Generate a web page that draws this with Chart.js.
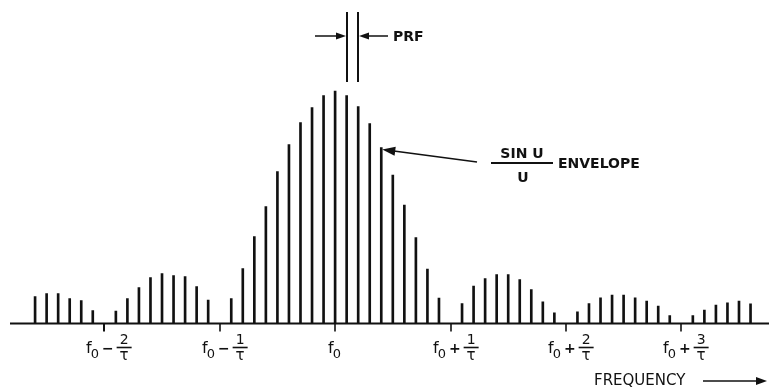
<!DOCTYPE html>
<html>
<head>
<meta charset="utf-8">
<script src="https://cdn.jsdelivr.net/npm/chart.js@4.4.1/dist/chart.umd.min.js"></script>
<style>
  html, body { margin: 0; padding: 0; background: #fff; overflow: hidden; }
  canvas { display: block; }
</style>
</head>
<body>
<canvas id="spectrumChart" width="769" height="389"></canvas>
<script>
// ========================
// Daten (Linienspektrum, Abstand = PRF)
// ========================
const lineOffsets = [
  -26, -25, -24, -23, -22, -21, -20, -19, -18, -17, -16, -15, -14, -13, -12, -11,
  -10, -9, -8, -7, -6, -5, -4, -3, -2, -1, 0, 1, 2, 3, 4, 5, 6, 7, 8, 9,
  10, 11, 12, 13, 14, 15, 16, 17, 18, 19, 20, 21, 22, 23, 24, 25, 26, 27, 28, 29,
  30, 31, 32, 33, 34, 35, 36
];
const amplitudes = [
  27, 30, 30, 25, 23, 13, 0, 12.5, 25, 36, 46, 50, 48, 47, 37, 23.5,
  0, 25, 55, 87, 117, 152, 179, 201, 216, 228, 232.5, 228, 217, 200, 176, 148.5, 118.5, 86, 54.5, 25.5,
  0, 20, 37.5, 45, 49, 49, 44, 34, 21.7, 10.7, 0, 11.7, 20, 25.7, 28.3, 28.3, 25.7, 22.3, 17.3, 8,
  0, 8, 13.3, 18.3, 20.7, 22.3, 19.7
];
const tickOffsets = [-20, -10, 0, 10, 20, 30];
const tickLabels = ['f0 − 2/τ', 'f0 − 1/τ', 'f0', 'f0 + 1/τ', 'f0 + 2/τ', 'f0 + 3/τ'];
const prfLines = [1, 2];
const envelopeLine = 4;

document.addEventListener('DOMContentLoaded', () => {
  const INK = '#111';
  const FONT = '"DejaVu Sans", sans-serif';

  function arrow(ctx, x1, y1, x2, y2, len, half) {
    const a = Math.atan2(y2 - y1, x2 - x1);
    ctx.beginPath();
    ctx.moveTo(x1, y1);
    ctx.lineTo(x2 - Math.cos(a) * len * 0.6, y2 - Math.sin(a) * len * 0.6);
    ctx.stroke();
    ctx.beginPath();
    ctx.moveTo(x2, y2);
    ctx.lineTo(x2 - Math.cos(a) * len - Math.sin(a) * half, y2 - Math.sin(a) * len + Math.cos(a) * half);
    ctx.lineTo(x2 - Math.cos(a) * len + Math.sin(a) * half, y2 - Math.sin(a) * len - Math.cos(a) * half);
    ctx.closePath();
    ctx.fill();
  }

  // Beschriftung wie "f0 − 2/τ": f, tiefgestellte 0, Vorzeichen, Bruch
  function tickLabel(ctx, label, px) {
    const m = label.match(/^f0(?: ([−+]) (\d)\/τ)?$/);
    ctx.textBaseline = 'alphabetic';
    ctx.textAlign = 'left';
    ctx.font = '16px ' + FONT;
    const wf = ctx.measureText('f').width;
    ctx.font = '13px ' + FONT;
    const w0 = ctx.measureText('0').width;
    if (!m[1]) {
      const start = px - (wf + w0) / 2;
      ctx.font = '16px ' + FONT;
      ctx.fillText('f', start, 353);
      ctx.font = '13px ' + FONT;
      ctx.fillText('0', start + wf - 1, 358);
      return;
    }
    let cx = px - 18;
    ctx.font = '16px ' + FONT;
    ctx.fillText('f', cx, 353);
    cx += wf - 1;
    ctx.font = '13px ' + FONT;
    ctx.fillText('0', cx, 358);
    cx += w0 + 3;
    ctx.font = 'bold 14px ' + FONT;
    ctx.fillText(m[1], cx, 353);
    cx += ctx.measureText(m[1]).width + 3;
    const barW = 15;
    const mid = cx + barW / 2;
    ctx.textAlign = 'center';
    ctx.font = '14px ' + FONT;
    ctx.fillText(m[2], mid, 344);
    ctx.font = '15px ' + FONT;
    ctx.fillText('τ', mid, 360);
    ctx.lineWidth = 1.6;
    ctx.beginPath();
    ctx.moveTo(cx, 347.5);
    ctx.lineTo(cx + barW, 347.5);
    ctx.stroke();
  }

  const annotations = {
    id: 'annotations',
    afterDraw(chart) {
      const ctx = chart.ctx;
      const xs = chart.scales.x;
      const ys = chart.scales.y;
      const base = ys.getPixelForValue(0);
      ctx.save();
      ctx.strokeStyle = INK;
      ctx.fillStyle = INK;
      ctx.lineWidth = 2;

      // Frequenzachse mit Marken
      ctx.beginPath();
      ctx.moveTo(10, base);
      ctx.lineTo(chart.width, base);
      ctx.stroke();
      tickOffsets.forEach((t, i) => {
        const px = Math.round(xs.getPixelForValue(t));
        ctx.beginPath();
        ctx.moveTo(px, base);
        ctx.lineTo(px, base + 8);
        ctx.stroke();
        tickLabel(ctx, tickLabels[i], px);
      });

      ctx.font = '15px ' + FONT;
      ctx.textAlign = 'left';
      ctx.textBaseline = 'middle';
      ctx.fillText('FREQUENCY', 594, 381);
      ctx.lineWidth = 1.5;
      arrow(ctx, 703, 381, 767, 381, 11, 4);

      // PRF-Abstand
      const pa = Math.round(xs.getPixelForValue(prfLines[0]));
      const pb = Math.round(xs.getPixelForValue(prfLines[1]));
      ctx.lineWidth = 2;
      [pa, pb].forEach(px => {
        ctx.beginPath();
        ctx.moveTo(px, 12);
        ctx.lineTo(px, 82);
        ctx.stroke();
      });
      ctx.lineWidth = 1.5;
      arrow(ctx, 315, 36, pa - 1, 36, 10, 3.5);
      arrow(ctx, 388, 36, pb + 1, 36, 10, 3.5);
      ctx.font = 'bold 14px ' + FONT;
      ctx.fillText('PRF', 393, 37);

      // sin u / u Hüllkurve
      const idx = lineOffsets.indexOf(envelopeLine);
      const tipX = xs.getPixelForValue(envelopeLine) + 1;
      const tipY = ys.getPixelForValue(amplitudes[idx]) + 2;
      arrow(ctx, 477, 162, tipX, tipY, 13, 4.5);
      ctx.lineWidth = 2;
      ctx.beginPath();
      ctx.moveTo(491, 163);
      ctx.lineTo(553, 163);
      ctx.stroke();
      ctx.textAlign = 'center';
      ctx.textBaseline = 'alphabetic';
      ctx.fillText('SIN U', 522, 158);
      ctx.fillText('U', 523, 182);
      ctx.textAlign = 'left';
      ctx.textBaseline = 'middle';
      ctx.fillText('ENVELOPE', 558, 164);
      ctx.restore();
    }
  };

  // ========================
  // Chart.js Diagramm
  // ========================
  new Chart(document.getElementById('spectrumChart'), {
    type: 'bar',
    data: {
      datasets: [{
        data: lineOffsets.map((x, i) => ({ x, y: amplitudes[i] })),
        backgroundColor: INK,
        borderWidth: 0,
        barThickness: 2
      }]
    },
    options: {
      responsive: false,
      animation: false,
      devicePixelRatio: 1,
      layout: { padding: { top: 23.5, bottom: 65.5, left: 0, right: 0 } },
      plugins: { legend: { display: false }, tooltip: { enabled: false } },
      scales: {
        x: { type: 'linear', display: false, offset: false, min: -29.04, max: 37.6 },
        y: { display: false, min: 0, max: 300 }
      }
    },
    plugins: [annotations]
  });
});
</script>
</body>
</html>
